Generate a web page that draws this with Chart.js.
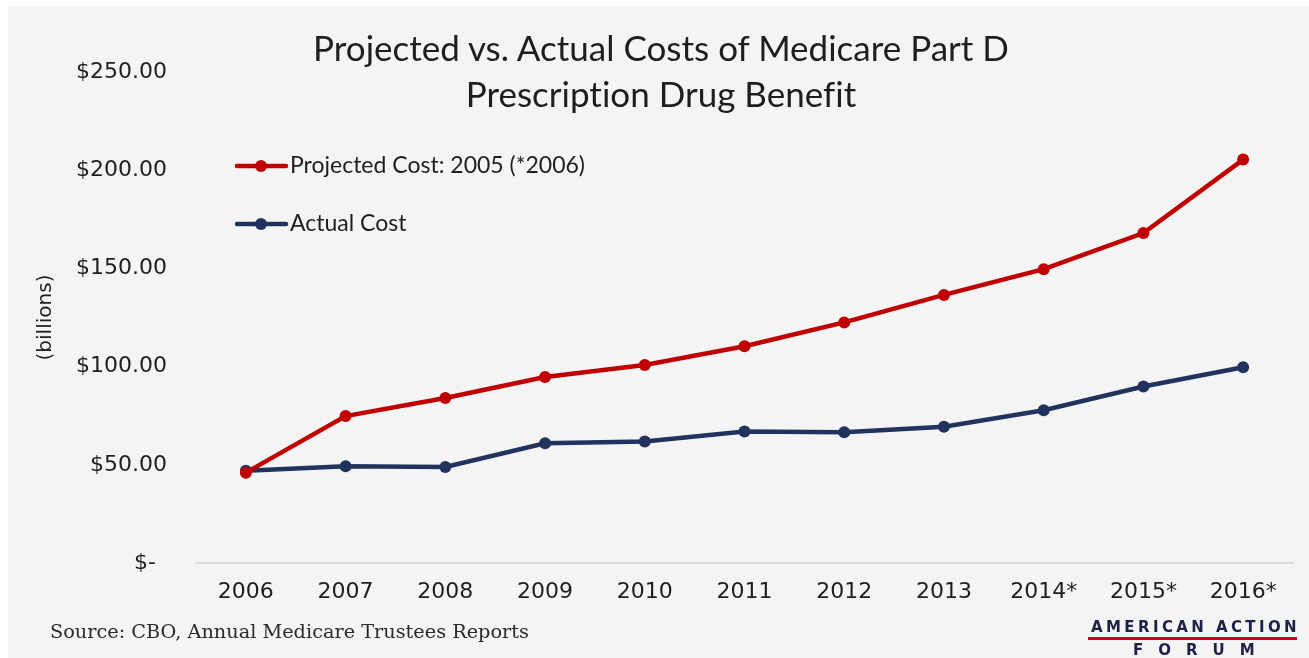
<!DOCTYPE html>
<html>
<head>
<meta charset="utf-8">
<script src="https://cdn.jsdelivr.net/npm/chart.js@4"></script>
<style>
  html, body { margin: 0; padding: 0; background: #ffffff; }
  body { width: 1309px; height: 658px; position: relative; overflow: hidden; }
  #frame { position: absolute; left: 8px; top: 6px; width: 1301px; height: 652px; background: #f4f4f4; }
  #frame canvas { position: absolute; left: 0; top: 0; }
  .title { position: absolute; left: 211px; width: 900px; top: 24px; text-align: center;
           font-family: Lato, sans-serif; font-size: 35px; line-height: 46px; color: #1e1e1e;
           font-variant-ligatures: none; font-feature-settings: "liga" 0; }
  .source { position: absolute; left: 50px; top: 620px; font-family: "DejaVu Serif", serif;
            font-size: 19.3px; color: #2a2a2a; white-space: nowrap; }
  .logo1 { position: absolute; left: 1091px; top: 619px; font-family: "DejaVu Sans", sans-serif;
           font-weight: bold; font-size: 15px; letter-spacing: 3.4px; color: #1c2148; white-space: nowrap; line-height: 16px; }
  .logobar { position: absolute; left: 1088px; top: 637px; width: 209px; height: 3px; background: #d0021b; }
  .logo2 { position: absolute; left: 1133px; top: 642px; font-family: "DejaVu Sans", sans-serif;
           font-weight: 900; font-size: 15px; letter-spacing: 15px; color: #1c2148; white-space: nowrap; line-height: 16px; }
</style>
</head>
<body>
<div id="frame"><canvas id="c"></canvas></div>
<div class="title">Projected vs. Actual Costs of Medicare Part D<br>Prescription Drug Benefit</div>
<div class="source">Source: CBO, Annual Medicare Trustees Reports</div>
<div class="logo1">AMERICAN ACTION</div>
<div class="logobar"></div>
<div class="logo2">FORUM</div>
<script>
const years = ['2006', '2007', '2008', '2009', '2010', '2011', '2012', '2013', '2014*', '2015*', '2016*'];
const projectedCost = [46.0, 74.8, 84.0, 94.7, 100.8, 110.4, 122.5, 136.5, 149.6, 168.0, 205.4];
const actualCost = [47.0, 49.3, 48.9, 61.0, 61.9, 66.9, 66.6, 69.4, 77.8, 89.9, 99.7];
const seriesLabels = ['Projected Cost: 2005 (*2006)', 'Actual Cost'];
const yTickValues = [0, 50, 100, 150, 200, 250];

const RED = '#c00000';
const NAVY = '#22325f';

const insideLegend = {
  id: 'insideLegend',
  afterDatasetsDraw(chart) {
    const { ctx, chartArea } = chart;
    ctx.save();
    chart.data.datasets.forEach((ds, i) => {
      const x0 = chartArea.left + 41;
      const y = chartArea.top + 94 + i * 58;
      ctx.strokeStyle = ds.borderColor;
      ctx.lineWidth = 4.5;
      ctx.lineCap = 'round';
      ctx.beginPath();
      ctx.moveTo(x0, y);
      ctx.lineTo(x0 + 49, y);
      ctx.stroke();
      ctx.fillStyle = ds.borderColor;
      ctx.beginPath();
      ctx.arc(x0 + 24, y, 6, 0, Math.PI * 2);
      ctx.fill();
      ctx.fillStyle = '#1e1e1e';
      ctx.font = '23px Lato, sans-serif';
      ctx.textBaseline = 'middle';
      ctx.textAlign = 'left';
      ctx.fillText(ds.label, x0 + 53, y);
    });
    ctx.restore();
  }
};

new Chart(document.getElementById('c'), {
  type: 'line',
  data: {
    labels: years,
    datasets: [
      { label: seriesLabels[0], data: projectedCost, borderColor: RED, backgroundColor: RED,
        borderWidth: 4.5, pointRadius: 6, pointHoverRadius: 6, pointBackgroundColor: RED, pointBorderWidth: 0, tension: 0 },
      { label: seriesLabels[1], data: actualCost, borderColor: NAVY, backgroundColor: NAVY,
        borderWidth: 4.5, pointRadius: 6, pointHoverRadius: 6, pointBackgroundColor: NAVY, pointBorderWidth: 0, tension: 0 }
    ]
  },
  options: {
    responsive: true,
    maintainAspectRatio: false,
    animation: false,
    layout: { padding: { top: 66, right: 16, left: 0, bottom: 0 } },
    plugins: { legend: { display: false }, tooltip: { enabled: false }, title: { display: false } },
    scales: {
      x: {
        offset: true,
        grid: { display: false, drawTicks: false },
        border: { display: true, color: '#d9d9d9', width: 2 },
        ticks: { color: '#1e1e1e', font: { family: 'DejaVu Sans', size: 22 }, padding: 16, maxRotation: 0, autoSkip: false },
        afterFit(s) { s.height = 95; }
      },
      y: {
        min: 0, max: 250,
        afterBuildTicks(s) { s.ticks = yTickValues.map(v => ({ value: v })); },
        grid: { display: false, drawTicks: false },
        border: { display: false },
        ticks: {
          color: '#1e1e1e', font: { family: 'DejaVu Sans', size: 22 }, padding: 29,
          callback: (v) => v === 0 ? '$-\u2002' : '$' + Number(v).toFixed(2)
        },
        title: { display: true, text: '(billions)', color: '#1e1e1e', font: { family: 'DejaVu Sans', size: 20 }, padding: { top: 26, bottom: 0 } },
        afterFit(s) { s.width = 188; }
      }
    }
  },
  plugins: [insideLegend]
});
</script>
</body>
</html>
